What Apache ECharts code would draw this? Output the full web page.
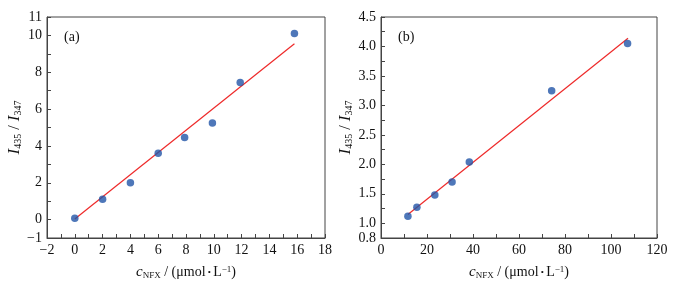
<!DOCTYPE html>
<html>
<head>
<meta charset="utf-8">
<script src="https://cdn.jsdelivr.net/npm/echarts@6/dist/echarts.min.js"></script>
<style>
  html, body { margin: 0; padding: 0; background: #fff; }
  #chart { width: 685px; height: 285px; }
</style>
</head>
<body>
<div id="chart"></div>
<script>
// panel (a)
var concA = [0, 2, 4, 6, 7.9, 9.9, 11.9, 15.8];
var ratioA = [0.07, 1.1, 2.0, 3.6, 4.46, 5.25, 7.45, 10.1];
var fitAx = [0, 15.8];
var fitAy = [0.03, 9.55];
// panel (b)
var concB = [11.7, 15.6, 23.4, 30.9, 38.4, 74.2, 107.2];
var ratioB = [1.12, 1.27, 1.48, 1.70, 2.04, 3.25, 4.05];
var fitBx = [11.7, 107.4];
var fitBy = [1.15, 4.14];

function pairs(xs, ys) {
  return xs.map(function (x, i) { return [x, ys[i]]; });
}

var font = '"Liberation Serif", "DejaVu Serif", serif';
var axisColor = '#444';
var yRich = {
  i: { fontFamily: font, fontStyle: 'italic', fontSize: 17, color: '#111' },
  s: { fontFamily: font, fontSize: 10, color: '#111', verticalAlign: 'bottom', lineHeight: 12, padding: [7, 0, 0, 0] },
  n: { fontFamily: font, fontSize: 16, color: '#111' }
};
var xRich = {
  i: { fontFamily: font, fontStyle: 'italic', fontSize: 15, color: '#111' },
  s: { fontFamily: font, fontSize: 9, color: '#111', verticalAlign: 'bottom', lineHeight: 10, padding: [6, 0, 0, 0] },
  n: { fontFamily: font, fontSize: 14, color: '#111' },
  d: { fontFamily: font, fontSize: 9, color: '#111' },
  p: { fontFamily: font, fontSize: 9, color: '#111', padding: [0, 0, 5, 0] }
};
var yName = '{i|I}{s|435}{n| / }{i|I}{s|347}';
var xName = '{i|c}{s|NFX}{n| / (μmol}{d| • }{n|L}{p|−1}{n|)}';

function xAxisCfg(idx, min, max, step, labelStep) {
  return {
    type: 'value', gridIndex: idx, min: min, max: max, interval: step,
    name: xName, nameLocation: 'middle', nameGap: 27,
    nameTextStyle: { rich: xRich },
    axisLine: { show: true, onZero: false, lineStyle: { color: axisColor, width: 1 } },
    axisTick: { show: true, inside: true, length: 4, lineStyle: { color: axisColor } },
    splitLine: { show: false },
    axisLabel: {
      margin: 5, fontFamily: font, fontSize: 14, color: '#111',
      formatter: function (v) {
        var r = v / labelStep;
        if (Math.abs(r - Math.round(r)) < 1e-6) return String(v).replace('-', '\u2212');
        return '';
      }
    }
  };
}

function yAxisCfg(idx, min, max, step, fmt, gap) {
  return {
    type: 'value', gridIndex: idx, min: min, max: max, interval: step,
    name: yName, nameLocation: 'middle', nameGap: gap, nameRotate: 90,
    nameTextStyle: { rich: yRich },
    axisLine: { show: true, onZero: false, lineStyle: { color: axisColor, width: 1 } },
    axisTick: { show: true, inside: true, length: 4, lineStyle: { color: axisColor } },
    splitLine: { show: false },
    axisLabel: { margin: 5, fontFamily: font, fontSize: 14, color: '#111', formatter: fmt }
  };
}

var chart = echarts.init(document.getElementById('chart'), null, { renderer: 'canvas' });

var option = {
  backgroundColor: '#fff',
  animation: false,
  title: [
    { text: '(a)', left: 59, top: 25, textStyle: { fontFamily: font, fontSize: 14, fontWeight: 'normal', color: '#111' } },
    { text: '(b)', left: 393, top: 25, textStyle: { fontFamily: font, fontSize: 14, fontWeight: 'normal', color: '#111' } }
  ],
  grid: [
    { left: 47, right: 360, top: 17, bottom: 44, show: true, borderColor: axisColor, borderWidth: 1 },
    { left: 381, right: 28, top: 17, bottom: 44, show: true, borderColor: axisColor, borderWidth: 1 }
  ],
  xAxis: [
    xAxisCfg(0, -2, 18, 1, 2),
    xAxisCfg(1, 0, 120, 10, 20)
  ],
  yAxis: [
    yAxisCfg(0, -1, 11, 1, function (v) {
      if (v === -1 || v === 11 || v % 2 === 0) return String(v).replace('-', '\u2212');
      return '';
    }, 22),
    yAxisCfg(1, 0.75, 4.5, 0.25, function (v) {
      if (Math.abs(v - 0.75) < 1e-6) return '0.8';
      if (Math.abs(v * 2 - Math.round(v * 2)) < 1e-6) return v.toFixed(1);
      return '';
    }, 27)
  ],
  series: [
    {
      type: 'line', xAxisIndex: 0, yAxisIndex: 0, data: pairs(fitAx, fitAy),
      showSymbol: false, lineStyle: { color: '#ee2a2a', width: 1.2 }, z: 2
    },
    {
      type: 'scatter', xAxisIndex: 0, yAxisIndex: 0, data: pairs(concA, ratioA),
      symbolSize: 7.5, itemStyle: { color: '#2255a8' }, z: 3
    },
    {
      type: 'line', xAxisIndex: 1, yAxisIndex: 1, data: pairs(fitBx, fitBy),
      showSymbol: false, lineStyle: { color: '#ee2a2a', width: 1.2 }, z: 2
    },
    {
      type: 'scatter', xAxisIndex: 1, yAxisIndex: 1, data: pairs(concB, ratioB),
      symbolSize: 7.5, itemStyle: { color: '#2255a8' }, z: 3
    }
  ]
};

option && chart.setOption(option);
</script>
</body>
</html>
